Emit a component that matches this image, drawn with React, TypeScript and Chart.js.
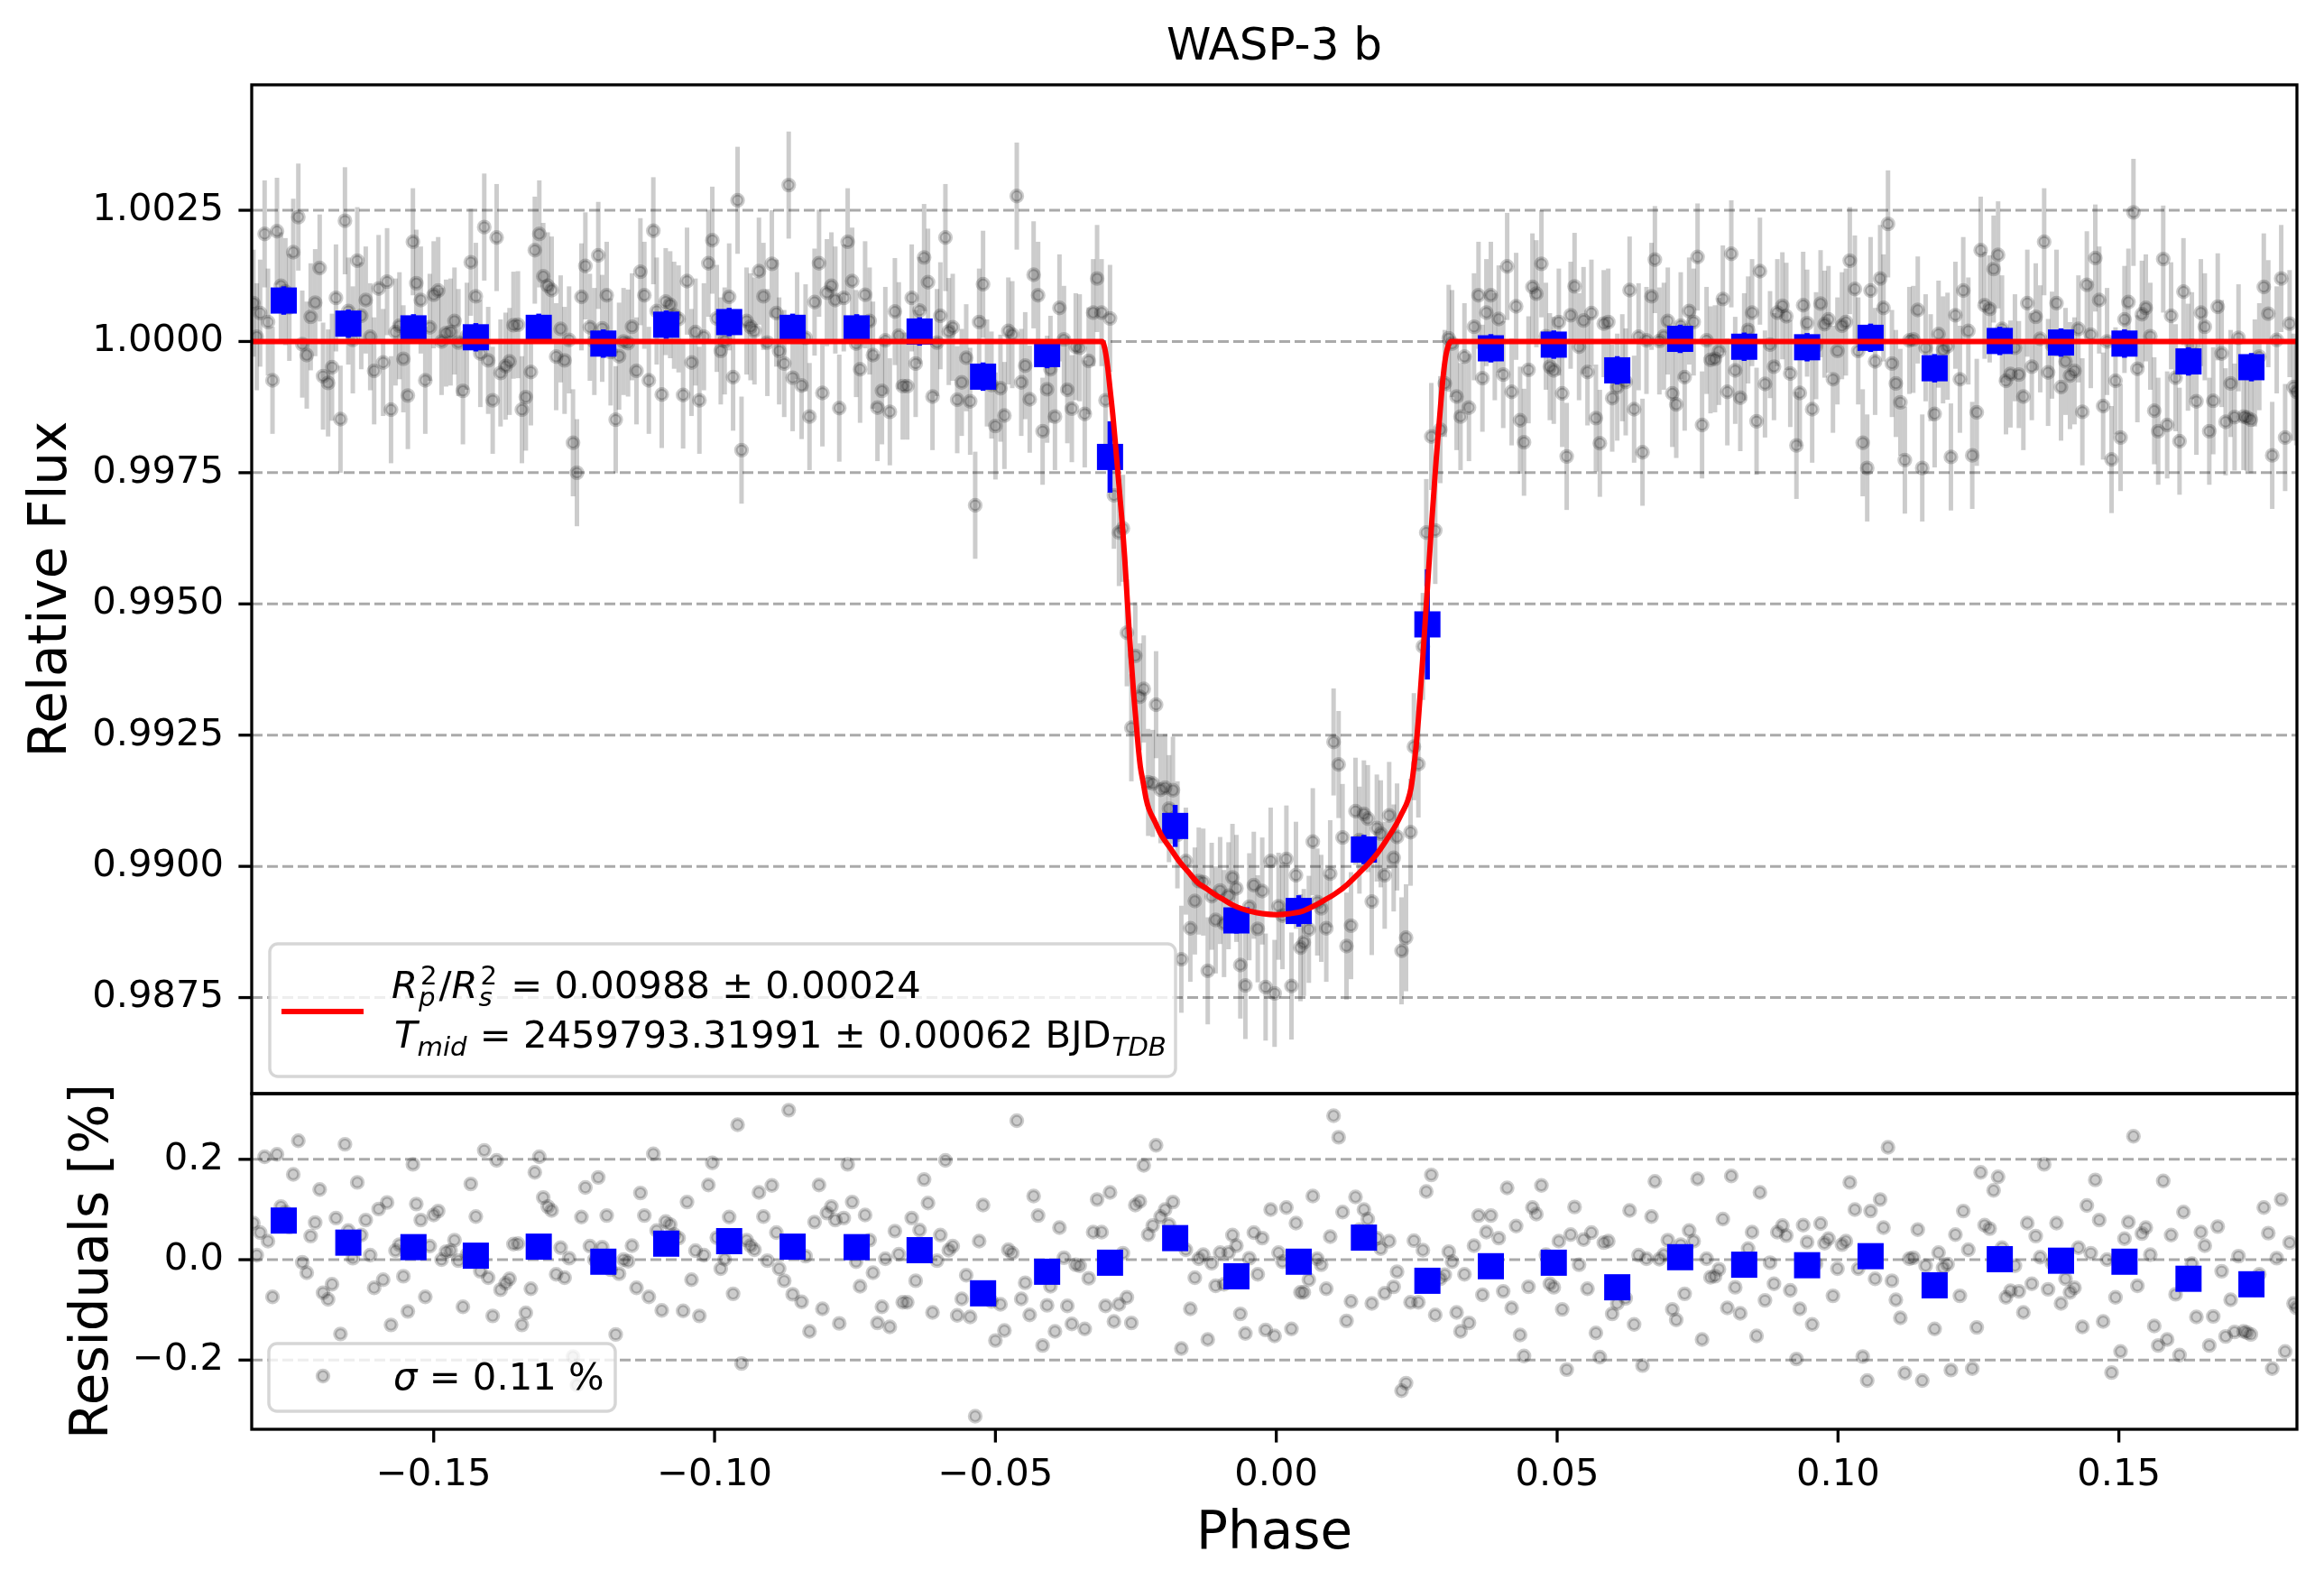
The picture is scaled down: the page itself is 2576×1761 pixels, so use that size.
import React, { useEffect, useRef } from "react";
import { Chart, registerables } from "chart.js";

Chart.register(...registerables);

const FONT = '"DejaVu Sans", sans-serif';

// ---------------- data ----------------
const phase = [
  -0.1821, -0.1815, -0.1809, -0.1801, -0.1795, -0.1787, -0.1779, -0.1772, -0.1764, -0.1757,
  -0.1750, -0.1741, -0.1734, -0.1726, -0.1719, -0.1711, -0.1703, -0.1697, -0.1688, -0.1681,
  -0.1674, -0.1666, -0.1658, -0.1652, -0.1644, -0.1636, -0.1629, -0.1621, -0.1613, -0.1606,
  -0.1598, -0.1590, -0.1583, -0.1576, -0.1568, -0.1561, -0.1554, -0.1546, -0.1537, -0.1531,
  -0.1523, -0.1515, -0.1507, -0.1500, -0.1492, -0.1486, -0.1478, -0.1470, -0.1463, -0.1456,
  -0.1448, -0.1441, -0.1434, -0.1425, -0.1417, -0.1410, -0.1403, -0.1395, -0.1388, -0.1381,
  -0.1372, -0.1365, -0.1358, -0.1350, -0.1343, -0.1336, -0.1327, -0.1320, -0.1312, -0.1305,
  -0.1297, -0.1290, -0.1282, -0.1274, -0.1267, -0.1259, -0.1252, -0.1245, -0.1237, -0.1230,
  -0.1222, -0.1214, -0.1207, -0.1200, -0.1192, -0.1185, -0.1176, -0.1170, -0.1162, -0.1154,
  -0.1147, -0.1139, -0.1132, -0.1125, -0.1117, -0.1109, -0.1103, -0.1094, -0.1087, -0.1079,
  -0.1072, -0.1064, -0.1056, -0.1049, -0.1041, -0.1034, -0.1027, -0.1019, -0.1011, -0.1004,
  -0.0996, -0.0989, -0.0982, -0.0974, -0.0967, -0.0959, -0.0952, -0.0943, -0.0936, -0.0929,
  -0.0921, -0.0913, -0.0906,
  -0.0898, -0.0890, -0.0885, -0.0876, -0.0868, -0.0861, -0.0853, -0.0845, -0.0838, -0.0831,
  -0.0822, -0.0814, -0.0808, -0.0800, -0.0792, -0.0785, -0.0778, -0.0770, -0.0763, -0.0755,
  -0.0748, -0.0741, -0.0732, -0.0724, -0.0718, -0.0710, -0.0702, -0.0696, -0.0688, -0.0679,
  -0.0672, -0.0665, -0.0657, -0.0649, -0.0642, -0.0635, -0.0627, -0.0620, -0.0612, -0.0604,
  -0.0598, -0.0589, -0.0583, -0.0576, -0.0568, -0.0560, -0.0552, -0.0545, -0.0536, -0.0529,
  -0.0522, -0.0515, -0.0507, -0.0500, -0.0491, -0.0484, -0.0477, -0.0470, -0.0462, -0.0454,
  -0.0447, -0.0439, -0.0432, -0.0424, -0.0416, -0.0408, -0.0402, -0.0394, -0.0386, -0.0378,
  -0.0372, -0.0364, -0.0357, -0.0350, -0.0341, -0.0334, -0.0326, -0.0319, -0.0311,
  -0.0304, -0.0296, -0.0289, -0.0280, -0.0273, -0.0266, -0.0258, -0.0251, -0.0243, -0.0236,
  -0.0228, -0.0220, -0.0214, -0.0206, -0.0198, -0.0191, -0.0184, -0.0176, -0.0169, -0.0161,
  -0.0153, -0.0145, -0.0138, -0.0130, -0.0122, -0.0115, -0.0108, -0.0100, -0.0093, -0.0085,
  -0.0078, -0.0071, -0.0064, -0.0055, -0.0048, -0.0040, -0.0033, -0.0025, -0.0019, -0.0010,
  -0.0003, 0.0004, 0.0011, 0.0018, 0.0027, 0.0035, 0.0043, 0.0049, 0.0058, 0.0065,
  0.0073, 0.0080, 0.0089, 0.0096, 0.0102, 0.0111, 0.0118, 0.0125, 0.0133, 0.0141,
  0.0148, 0.0156, 0.0163, 0.0170, 0.0179, 0.0186, 0.0193, 0.0201, 0.0209, 0.0215,
  0.0223, 0.0231, 0.0239, 0.0245, 0.0253, 0.0261, 0.0267, 0.0276, 0.0283, 0.0292,
  0.0300, 0.0307,
  0.0313, 0.0321, 0.0328, 0.0335, 0.0343, 0.0352, 0.0360, 0.0367, 0.0374, 0.0382,
  0.0389, 0.0396, 0.0404, 0.0411, 0.0419, 0.0427, 0.0434, 0.0441, 0.0449, 0.0456,
  0.0463, 0.0472, 0.0480, 0.0487, 0.0494, 0.0503, 0.0509, 0.0517, 0.0524, 0.0531,
  0.0539, 0.0547, 0.0554, 0.0561, 0.0569, 0.0576, 0.0583, 0.0591, 0.0598, 0.0607,
  0.0616, 0.0622, 0.0629, 0.0637, 0.0645, 0.0652, 0.0659, 0.0668, 0.0674, 0.0682,
  0.0690, 0.0697, 0.0705, 0.0712, 0.0720, 0.0727, 0.0735, 0.0743, 0.0750, 0.0758,
  0.0766, 0.0773, 0.0781, 0.0788, 0.0795, 0.0803, 0.0810, 0.0817, 0.0826, 0.0833,
  0.0840, 0.0847, 0.0855, 0.0861, 0.0870, 0.0879, 0.0886, 0.0892, 0.0901, 0.0908,
  0.0915,
  0.0926, 0.0932, 0.0938, 0.0945, 0.0954, 0.0961, 0.0969, 0.0976, 0.0983, 0.0991,
  0.0999, 0.1007, 0.1014, 0.1021, 0.1030, 0.1036, 0.1044, 0.1052, 0.1058, 0.1066,
  0.1075, 0.1081, 0.1089, 0.1096, 0.1103, 0.1111, 0.1119, 0.1127, 0.1134, 0.1142,
  0.1150, 0.1156, 0.1165, 0.1172, 0.1179, 0.1187, 0.1195, 0.1201, 0.1209, 0.1217,
  0.1223, 0.1232, 0.1239, 0.1247, 0.1254, 0.1261, 0.1270, 0.1277, 0.1285, 0.1292,
  0.1299, 0.1307, 0.1315, 0.1322, 0.1330, 0.1337, 0.1345, 0.1352, 0.1360, 0.1367,
  0.1374, 0.1381, 0.1389, 0.1397, 0.1405, 0.1413, 0.1421, 0.1428, 0.1435, 0.1443,
  0.1450, 0.1458, 0.1465, 0.1472, 0.1479, 0.1487, 0.1494, 0.1503, 0.1510, 0.1517,
  0.1526, 0.1533, 0.1541, 0.1548, 0.1556, 0.1563, 0.1570, 0.1579, 0.1586, 0.1593,
  0.1601, 0.1608, 0.1615, 0.1623, 0.1630, 0.1638, 0.1646, 0.1653, 0.1661, 0.1668,
  0.1676, 0.1683, 0.1690, 0.1699, 0.1706, 0.1713, 0.1722, 0.1728, 0.1735, 0.1742,
  0.1750, 0.1758, 0.1766, 0.1773, 0.1781, 0.1789, 0.1796, 0.1804, 0.1811, 0.1816,
];

const flux = [
  1.00073, 1.00009, 1.00054, 1.00205, 1.00037, 0.99926, 1.00210, 1.00106, 1.00095, 1.00065,
  1.00170, 1.00237, 0.99995, 0.99974, 1.00047, 1.00074, 1.00140, 0.99934, 0.99921, 0.99951,
  1.00083, 0.99852, 1.00230, 1.00058, 1.00003, 1.00154, 1.00049, 1.00079, 1.00009, 0.99944,
  1.00101, 0.99960, 1.00114, 0.99870, 1.00018, 1.00030, 0.99967, 0.99897, 1.00190, 1.00111,
  1.00079, 0.99926, 1.00027, 1.00089, 1.00097, 1.00000, 1.00016, 1.00018, 1.00039, 0.99998,
  0.99906, 1.00010, 1.00151, 1.00086, 0.99977, 1.00218, 0.99964, 0.99888, 1.00198, 0.99940,
  0.99953, 0.99962, 1.00031, 1.00032, 0.99870, 0.99894, 0.99942, 1.00174, 1.00205, 1.00124,
  1.00106, 1.00098, 0.99971, 1.00024, 0.99964, 1.00003, 0.99807, 0.99750, 1.00085, 1.00144,
  1.00027, 1.00000, 1.00164, 1.00025, 1.00088, 0.99980, 0.99851, 0.99972, 1.00000, 0.99997,
  1.00028, 0.99944, 1.00133, 1.00088, 0.99926, 1.00211, 1.00058, 0.99899, 1.00076, 1.00070,
  1.00050, 1.00043, 0.99898, 1.00115, 0.99960, 1.00018, 0.99888, 1.00009, 1.00149, 1.00193,
  1.00044, 0.99982, 1.00001, 1.00085, 0.99932, 1.00269, 0.99793, 1.00039, 1.00028, 1.00020,
  1.00134, 1.00086, 0.99998,
  1.00148, 1.00054, 0.99982, 0.99958, 1.00298, 0.99931, 1.00030, 0.99916, 1.00007, 0.99857,
  1.00075, 1.00149, 0.99902, 1.00093, 1.00106, 1.00079, 0.99873, 1.00083, 1.00190, 1.00115,
  0.99996, 0.99947, 1.00089, 1.00039, 0.99974, 0.99874, 0.99906, 1.00002, 0.99866, 1.00057,
  1.00011, 0.99915, 0.99915, 1.00083, 0.99958, 1.00059, 1.00160, 1.00113, 0.99895, 0.99998,
  1.00049, 1.00198, 1.00019, 1.00027, 0.99889, 0.99922, 0.99969, 0.99886, 0.99688, 1.00037,
  1.00109, 0.99940, 0.99917, 0.99839, 0.99911, 0.99859, 1.00020, 1.00013, 1.00277, 0.99922,
  0.99954, 0.99890, 1.00127, 1.00088, 0.99829, 0.99909, 0.99947, 0.99857, 1.00064, 1.00004,
  0.99908, 0.99872, 0.99990, 0.99988, 0.99862, 0.99963, 1.00055, 1.00120, 1.00055,
  0.99888, 1.00044, 0.99707, 0.99636, 0.99644, 0.99445, 0.99264, 0.99401, 0.99323, 0.99338,
  0.99160, 0.99158, 0.99308, 0.99146, 0.99150, 0.99110, 0.99145, 0.99060, 0.98823, 0.99010,
  0.98882, 0.98934, 0.98972, 0.98970, 0.98801, 0.98943, 0.98898, 0.98954, 0.98891, 0.98944,
  0.98979, 0.98958, 0.98812, 0.98773, 0.98923, 0.98964, 0.98881, 0.98953, 0.98770, 0.99010,
  0.98758, 0.98924, 0.98906, 0.99014, 0.98772, 0.98983, 0.98845, 0.98855, 0.98880, 0.99047,
  0.98932, 0.98920, 0.98882, 0.98986, 0.99237, 0.99194, 0.99055, 0.98848, 0.98887, 0.99105,
  0.99050, 0.99100, 0.99091, 0.98933, 0.99073, 0.99062, 0.98983, 0.99097, 0.99016, 0.99056,
  0.98839, 0.98864, 0.99065, 0.99228, 0.99195, 0.99419, 0.99636, 0.99819, 0.99640, 0.99832,
  0.99920, 1.00006,
  0.99996, 0.99895, 0.99857, 0.99971, 0.99874, 1.00028, 1.00088, 0.99930, 1.00055, 1.00088,
  0.99990, 1.00043, 0.99937, 1.00143, 0.99904, 1.00067, 0.99850, 0.99808, 0.99946, 1.00104,
  1.00091, 1.00148, 1.00010, 0.99952, 0.99945, 1.00037, 0.99901, 0.99781, 1.00050, 1.00105,
  0.99990, 1.00040, 0.99942, 1.00054, 0.99854, 0.99806, 1.00034, 1.00037, 0.99892, 0.99913,
  0.99950, 0.99923, 1.00098, 0.99871, 1.00009, 0.99789, 1.00002, 1.00086, 1.00156, 1.00001,
  1.00010, 1.00039, 0.99901, 0.99880, 1.00030, 0.99932, 1.00058, 1.00037, 1.00161, 0.99841,
  1.00002, 0.99965, 0.99967, 0.99981, 1.00081, 0.99904, 1.00167, 0.99945, 0.99893, 0.99990,
  1.00022, 1.00055, 0.99848, 1.00134, 0.99919, 0.99994, 0.99952, 1.00055, 1.00068, 1.00048,
  0.99939,
  0.99802, 0.99902, 1.00069, 1.00035, 0.99871, 0.99992, 1.00072, 1.00033, 1.00042, 0.99928,
  0.99982, 1.00030, 1.00037, 1.00154, 1.00100, 0.99982, 0.99807, 0.99759, 1.00097, 0.99962,
  1.00120, 1.00064, 1.00224, 0.99958, 0.99920, 0.99884, 0.99774, 1.00002, 1.00004, 1.00060,
  0.99759, 0.99988, 0.99950, 0.99862, 1.00014, 0.99984, 0.99991, 0.99780, 1.00050, 0.99928,
  1.00097, 1.00020, 0.99783, 0.99865, 1.00174, 1.00069, 1.00062, 1.00138, 1.00165, 1.00024,
  0.99925, 0.99938, 0.99988, 0.99937, 0.99895, 1.00073, 0.99952, 1.00047, 1.00005, 1.00190,
  0.99941, 0.99993, 1.00073, 0.99913, 0.99962, 0.99935, 0.99944, 1.00024, 0.99866, 1.00108,
  1.00013, 1.00159, 1.00079, 0.99877, 1.00000, 0.99775, 0.99925, 0.99817, 1.00042, 1.00075,
  1.00246, 0.99948, 1.00052, 1.00064, 1.00010, 0.99868, 0.99829, 1.00157, 0.99841, 1.00049,
  0.99931, 0.99810, 1.00095, 0.99970, 0.99992, 0.99886, 1.00055, 1.00028, 0.99829, 0.99887,
  1.00066, 0.99977, 0.99847, 0.99920, 0.99856, 1.00007, 0.99857, 0.99855, 0.99851, 0.99940,
  0.99971, 1.00104, 1.00053, 0.99783, 1.00003, 1.00120, 0.99817, 1.00034, 0.99913, 0.99904,
];

// residuals in percent
const resid = [
  0.073, 0.009, 0.054, 0.205, 0.037, -0.074, 0.210, 0.106, 0.095, 0.065,
  0.170, 0.237, -0.005, -0.026, 0.047, 0.074, 0.140, -0.066, -0.079, -0.049,
  0.083, -0.148, 0.230, 0.058, 0.003, 0.154, 0.049, 0.079, 0.009, -0.056,
  0.101, -0.040, 0.114, -0.130, 0.018, 0.030, -0.033, -0.103, 0.190, 0.111,
  0.079, -0.074, 0.027, 0.089, 0.097, 0.000, 0.016, 0.018, 0.039, -0.002,
  -0.094, 0.010, 0.151, 0.086, -0.023, 0.218, -0.036, -0.112, 0.198, -0.060,
  -0.047, -0.038, 0.031, 0.032, -0.130, -0.106, -0.058, 0.174, 0.205, 0.124,
  0.106, 0.098, -0.029, 0.024, -0.036, 0.003, -0.193, -0.250, 0.085, 0.144,
  0.027, 0.000, 0.164, 0.025, 0.088, -0.020, -0.149, -0.028, 0.000, -0.003,
  0.028, -0.056, 0.133, 0.088, -0.074, 0.211, 0.058, -0.101, 0.076, 0.070,
  0.050, 0.043, -0.102, 0.115, -0.040, 0.018, -0.112, 0.009, 0.149, 0.193,
  0.044, -0.018, 0.001, 0.085, -0.068, 0.269, -0.207, 0.039, 0.028, 0.020,
  0.134, 0.086, -0.002,
  0.148, 0.054, -0.018, -0.042, 0.298, -0.069, 0.030, -0.084, 0.007, -0.143,
  0.075, 0.149, -0.098, 0.093, 0.106, 0.079, -0.127, 0.083, 0.190, 0.115,
  -0.004, -0.053, 0.089, 0.039, -0.026, -0.126, -0.094, 0.002, -0.134, 0.057,
  0.011, -0.085, -0.085, 0.083, -0.042, 0.059, 0.160, 0.113, -0.105, -0.002,
  0.049, 0.198, 0.019, 0.027, -0.111, -0.078, -0.031, -0.114, -0.312, 0.037,
  0.109, -0.060, -0.083, -0.161, -0.089, -0.141, 0.020, 0.013, 0.277, -0.078,
  -0.046, -0.110, 0.127, 0.088, -0.171, -0.091, -0.053, -0.143, 0.064, 0.004,
  -0.092, -0.128, -0.010, -0.012, -0.138, -0.037, 0.055, 0.120, 0.055,
  -0.092, 0.134, -0.123, -0.089, 0.013, -0.075, -0.126, 0.109, 0.116, 0.188,
  0.050, 0.068, 0.228, 0.086, 0.100, 0.070, 0.115, 0.050, -0.177, 0.020,
  -0.098, -0.036, 0.002, 0.010, -0.159, -0.007, -0.052, 0.014, -0.049, 0.014,
  0.049, 0.028, -0.108, -0.147, 0.003, 0.054, -0.029, 0.043, -0.140, 0.100,
  -0.152, 0.014, -0.004, 0.104, -0.138, 0.073, -0.065, -0.065, -0.040, 0.127,
  0.002, -0.010, -0.058, 0.046, 0.287, 0.244, 0.095, -0.122, -0.083, 0.125,
  0.060, 0.100, 0.081, -0.087, 0.043, 0.022, -0.067, 0.037, -0.054, -0.024,
  -0.261, -0.246, -0.085, 0.038, -0.085, 0.019, 0.136, 0.169, -0.110, -0.038,
  -0.030, 0.016,
  -0.004, -0.105, -0.143, -0.029, -0.126, 0.028, 0.088, -0.070, 0.055, 0.088,
  -0.010, 0.043, -0.063, 0.143, -0.096, 0.067, -0.150, -0.192, -0.054, 0.104,
  0.091, 0.148, 0.010, -0.048, -0.055, 0.037, -0.099, -0.219, 0.050, 0.105,
  -0.010, 0.040, -0.058, 0.054, -0.146, -0.194, 0.034, 0.037, -0.108, -0.087,
  -0.050, -0.077, 0.098, -0.129, 0.009, -0.211, 0.002, 0.086, 0.156, 0.001,
  0.010, 0.039, -0.099, -0.120, 0.030, -0.068, 0.058, 0.037, 0.161, -0.159,
  0.002, -0.035, -0.033, -0.019, 0.081, -0.096, 0.167, -0.055, -0.107, -0.010,
  0.022, 0.055, -0.152, 0.134, -0.081, -0.006, -0.048, 0.055, 0.068, 0.048,
  -0.061,
  -0.198, -0.098, 0.069, 0.035, -0.129, -0.008, 0.072, 0.033, 0.042, -0.072,
  -0.018, 0.030, 0.037, 0.154, 0.100, -0.018, -0.193, -0.241, 0.097, -0.038,
  0.120, 0.064, 0.224, -0.042, -0.080, -0.116, -0.226, 0.002, 0.004, 0.060,
  -0.241, -0.012, -0.050, -0.138, 0.014, -0.016, -0.009, -0.220, 0.050, -0.072,
  0.097, 0.020, -0.217, -0.135, 0.174, 0.069, 0.062, 0.138, 0.165, 0.024,
  -0.075, -0.062, -0.012, -0.063, -0.105, 0.073, -0.048, 0.047, 0.005, 0.190,
  -0.059, -0.007, 0.073, -0.087, -0.038, -0.065, -0.056, 0.024, -0.134, 0.108,
  0.013, 0.159, 0.079, -0.123, 0.000, -0.225, -0.075, -0.183, 0.042, 0.075,
  0.246, -0.052, 0.052, 0.064, 0.010, -0.132, -0.171, 0.157, -0.159, 0.049,
  -0.069, -0.190, 0.095, -0.030, -0.008, -0.114, 0.055, 0.028, -0.171, -0.113,
  0.066, -0.023, -0.153, -0.080, -0.144, 0.007, -0.143, -0.145, -0.149, -0.060,
  -0.029, 0.104, 0.053, -0.217, 0.003, 0.120, -0.183, 0.034, -0.087, -0.096,
];

const pointErr = 0.00102;

const binPhase = [
  -0.1767, -0.1652, -0.1536, -0.1425, -0.1313, -0.1198, -0.1086, -0.0974, -0.0861, -0.0747,
  -0.0635, -0.0522, -0.0408, -0.0296, -0.0180, -0.0071, 0.0040, 0.0156, 0.0269, 0.0382,
  0.0494, 0.0607, 0.0719, 0.0833, 0.0945, 0.1058, 0.1172, 0.1288, 0.1397, 0.1510,
  0.1624, 0.1736,
];
const binFlux = [
  1.00078, 1.00034, 1.00025, 1.00008, 1.00026, 0.99996, 1.00032, 1.00037, 1.00026, 1.00025,
  1.00019, 0.99933, 0.99976, 0.99780, 0.99077, 0.98897, 0.98915, 0.99032, 0.99461, 0.99987,
  0.99994, 0.99945, 1.00005, 0.99990, 0.99989, 1.00007, 0.99949, 1.00001, 0.99998, 0.99996,
  0.99962, 0.99951,
];
const binFluxErr = [
  0.00027, 0.00027, 0.00027, 0.00027, 0.00027, 0.00027, 0.00027, 0.00027, 0.00027, 0.00027,
  0.00027, 0.00027, 0.00027, 0.00068, 0.00040, 0.00025, 0.00030, 0.00028, 0.00105, 0.00027,
  0.00027, 0.00027, 0.00027, 0.00027, 0.00027, 0.00027, 0.00027, 0.00027, 0.00027, 0.00027,
  0.00027, 0.00027,
];
const binResid = [
  0.078, 0.034, 0.025, 0.008, 0.026, -0.004, 0.032, 0.037, 0.026, 0.025,
  0.019, -0.067, -0.024, -0.006, 0.043, -0.033, -0.004, 0.044, -0.042, -0.013,
  -0.006, -0.055, 0.005, -0.010, -0.011, 0.007, -0.051, 0.001, -0.002, -0.004,
  -0.038, -0.049,
];

const modelPhase = [
  -0.1824, -0.0310, -0.0305, -0.0300, -0.0296, -0.0291, -0.0286, -0.0282, -0.0278, -0.0274,
  -0.0270, -0.0266, -0.0262, -0.0258, -0.0254, -0.0250, -0.0246, -0.0242, -0.0237, -0.0232,
  -0.0227, -0.0216, -0.0205, -0.0189, -0.0173, -0.0157, -0.0141, -0.0125, -0.0109, -0.0093,
  -0.0077, -0.0061, -0.0045, -0.0025, 0.0000, 0.0025, 0.0045, 0.0062, 0.0083, 0.0105,
  0.0127, 0.0148, 0.0164, 0.0180, 0.0196, 0.0212, 0.0224, 0.0234, 0.0240, 0.0245,
  0.0249, 0.0253, 0.0257, 0.0261, 0.0265, 0.0269, 0.0273, 0.0277, 0.0281, 0.0285,
  0.0290, 0.0295, 0.0300, 0.0305, 0.0311, 0.1817,
];
const modelFlux = [
  1.0, 1.0, 0.99985, 0.9995, 0.9991, 0.9986, 0.998, 0.9975, 0.997, 0.9965,
  0.9959, 0.9952, 0.9945, 0.9939, 0.9933, 0.9928, 0.9923, 0.9919, 0.9916, 0.9913,
  0.9911, 0.99085, 0.9906, 0.99035, 0.9901, 0.9899, 0.9897, 0.98958, 0.98946, 0.98936,
  0.98926, 0.98919, 0.98914, 0.9891, 0.98908, 0.9891, 0.98914, 0.98922, 0.98934, 0.98948,
  0.98966, 0.98988, 0.99005, 0.99025, 0.9905, 0.99077, 0.99102, 0.99125, 0.9915, 0.9919,
  0.9923, 0.9928, 0.9934, 0.994, 0.99465, 0.9953, 0.99595, 0.9966, 0.9972, 0.9978,
  0.99845, 0.9991, 0.9996, 0.99988, 1.0, 1.0,
];

const fluxTicks = [0.9875, 0.99, 0.9925, 0.995, 0.9975, 1.0, 1.0025];
const fluxTickLabels = ["0.9875", "0.9900", "0.9925", "0.9950", "0.9975", "1.0000", "1.0025"];
const residTicks = [-0.2, 0.0, 0.2];
const residTickLabels = ["\u22120.2", "0.0", "0.2"];
const phaseTicks = [-0.15, -0.1, -0.05, 0.0, 0.05, 0.1, 0.15];
const phaseTickLabels = ["\u22120.15", "\u22120.10", "\u22120.05", "0.00", "0.05", "0.10", "0.15"];

const X_MIN = -0.1824;
const X_MAX = 0.1817;
const FLUX_MIN = 0.98567;
const FLUX_MAX = 1.00489;
const RES_MIN = -0.338;
const RES_MAX = 0.331;

// ---------------- layout / style ----------------
const W = 2576;
const H = 1761;
const TOP_H = 1240;
const BOT_TOP = 1180;
const BOT_H = H - BOT_TOP;
const AXIS_LW = 3.3;
const TICK_LEN = 14.6;
const TICK_FS = 41.7;
const LABEL_FS = 58;
const GRAY = "rgba(0,0,0,0.2)";
const PT_R = 6.2;
const PT_BW = 4;

function txt(ctx: CanvasRenderingContext2D, s: string, x: number, y: number, size: number, italic: boolean) {
  ctx.font = `${italic ? "italic " : ""}${size}px ${FONT}`;
  ctx.fillText(s, x, y);
  return ctx.measureText(s).width;
}

function legendBox(ctx: CanvasRenderingContext2D, x: number, y: number, w: number, h: number) {
  const r = 9;
  ctx.beginPath();
  ctx.moveTo(x + r, y);
  ctx.lineTo(x + w - r, y);
  ctx.arcTo(x + w, y, x + w, y + r, r);
  ctx.lineTo(x + w, y + h - r);
  ctx.arcTo(x + w, y + h, x + w - r, y + h, r);
  ctx.lineTo(x + r, y + h);
  ctx.arcTo(x, y + h, x, y + h - r, r);
  ctx.lineTo(x, y + r);
  ctx.arcTo(x, y, x + r, y, r);
  ctx.closePath();
  ctx.fillStyle = "rgba(255,255,255,0.8)";
  ctx.fill();
  ctx.lineWidth = 3.5;
  ctx.strokeStyle = "rgba(204,204,204,0.8)";
  ctx.setLineDash([]);
  ctx.stroke();
}

function drawTopLegend(ctx: CanvasRenderingContext2D) {
  legendBox(ctx, 299, 1046, 1004, 147);
  ctx.strokeStyle = "#ff0000";
  ctx.lineWidth = 6;
  ctx.beginPath();
  ctx.moveTo(312, 1121);
  ctx.lineTo(403, 1121);
  ctx.stroke();
  ctx.fillStyle = "#000";
  ctx.textAlign = "left";
  ctx.textBaseline = "alphabetic";
  const F = TICK_FS;
  const S = F * 0.7;
  const b1 = 1106;
  let x = 434;
  x += txt(ctx, "R", x, b1, F, true);
  let w = Math.max(txt(ctx, "p", x + 1, b1 + 9, S, true), txt(ctx, "2", x + 3, b1 - 15, S, false));
  x += w + 5;
  x += txt(ctx, "/", x, b1, F, false);
  x += txt(ctx, "R", x, b1, F, true);
  w = Math.max(txt(ctx, "s", x + 1, b1 + 9, S, true), txt(ctx, "2", x + 3, b1 - 15, S, false));
  x += w + 5;
  txt(ctx, " = 0.00988 \u00b1 0.00024", x, b1, F, false);

  const b2 = 1161;
  x = 437;
  x += txt(ctx, "T", x, b2, F, true);
  x += txt(ctx, "mid", x, b2 + 9, S, true) + 1;
  x += txt(ctx, " = 2459793.31991 \u00b1 0.00062 BJD", x, b2, F, false);
  txt(ctx, "TDB", x + 1, b2 + 9, S, true);
}

function drawBottomLegend(ctx: CanvasRenderingContext2D) {
  const oy = BOT_TOP;
  legendBox(ctx, 298, 1489 - oy, 384, 75);
  ctx.beginPath();
  ctx.arc(358, 1525 - oy, PT_R, 0, Math.PI * 2);
  ctx.fillStyle = GRAY;
  ctx.fill();
  ctx.lineWidth = PT_BW;
  ctx.strokeStyle = GRAY;
  ctx.stroke();
  ctx.fillStyle = "#000";
  ctx.textAlign = "left";
  ctx.textBaseline = "alphabetic";
  let x = 436;
  const b = 1540 - oy;
  x += txt(ctx, "\u03c3", x, b, TICK_FS, true);
  txt(ctx, " = 0.11 %", x, b, TICK_FS, false);
}

const errorBarPlugin = {
  id: "errorBars",
  beforeDatasetDraw(chart: any, args: any) {
    const ds: any = chart.data.datasets[args.index];
    if (ds.errY === undefined) return;
    const { ctx, chartArea: a } = chart;
    const xs = chart.scales.x;
    const ys = chart.scales.y;
    ctx.save();
    ctx.beginPath();
    ctx.rect(a.left, a.top, a.right - a.left, a.bottom - a.top);
    ctx.clip();
    ctx.strokeStyle = ds.errColor;
    ctx.lineWidth = ds.errWidth;
    ctx.lineCap = "butt";
    ds.data.forEach((pt: any, i: number) => {
      const e = Array.isArray(ds.errY) ? ds.errY[i] : ds.errY;
      const px = xs.getPixelForValue(pt.x);
      ctx.beginPath();
      ctx.moveTo(px, ys.getPixelForValue(pt.y - e));
      ctx.lineTo(px, ys.getPixelForValue(pt.y + e));
      ctx.stroke();
    });
    ctx.restore();
  },
};

function makeDecor(yTicks: number[], xTicks: number[] | null, legend: (c: CanvasRenderingContext2D) => void) {
  return {
    id: "decor",
    beforeDatasetsDraw(chart: any) {
      const { ctx, chartArea: a, scales } = chart;
      ctx.save();
      ctx.strokeStyle = "#aaaaaa";
      ctx.lineWidth = 3;
      ctx.setLineDash([12, 5]);
      for (const v of yTicks) {
        const y = scales.y.getPixelForValue(v);
        ctx.beginPath();
        ctx.moveTo(a.left, y);
        ctx.lineTo(a.right, y);
        ctx.stroke();
      }
      ctx.restore();
    },
    afterDatasetsDraw(chart: any) {
      const { ctx, chartArea: a, scales } = chart;
      ctx.save();
      legend(ctx);
      ctx.setLineDash([]);
      ctx.strokeStyle = "#000";
      ctx.lineWidth = AXIS_LW;
      ctx.strokeRect(a.left, a.top, a.right - a.left, a.bottom - a.top);
      for (const v of yTicks) {
        const y = scales.y.getPixelForValue(v);
        ctx.beginPath();
        ctx.moveTo(a.left - TICK_LEN, y);
        ctx.lineTo(a.left, y);
        ctx.stroke();
      }
      if (xTicks) {
        for (const v of xTicks) {
          const x = scales.x.getPixelForValue(v);
          ctx.beginPath();
          ctx.moveTo(x, a.bottom);
          ctx.lineTo(x, a.bottom + TICK_LEN);
          ctx.stroke();
        }
      }
      ctx.restore();
    },
  };
}

const tickFont = { family: FONT, size: TICK_FS };
const labelFont = { family: FONT, size: LABEL_FS };

export default function App() {
  const topRef = useRef<HTMLCanvasElement>(null);
  const botRef = useRef<HTMLCanvasElement>(null);

  useEffect(() => {
    Chart.defaults.font.family = FONT;

    const pts = phase.map((x, i) => ({ x, y: flux[i] }));
    const resPts = phase.map((x, i) => ({ x, y: resid[i] }));

    const grayDs = (data: any[], withErr: boolean): any => ({
      label: "data",
      data,
      pointRadius: PT_R,
      pointBackgroundColor: GRAY,
      pointBorderColor: GRAY,
      pointBorderWidth: PT_BW,
      pointHoverRadius: PT_R,
      order: 2,
      clip: 0,
      ...(withErr ? { errY: pointErr, errColor: GRAY, errWidth: 5 } : {}),
    });

    const top = new Chart(topRef.current as HTMLCanvasElement, {
      type: "scatter",
      data: {
        datasets: [
          {
            label: "model",
            data: modelPhase.map((x, i) => ({ x, y: modelFlux[i] })),
            showLine: true,
            fill: false,
            borderColor: "#ff0000",
            borderWidth: 6,
            pointRadius: 0,
            pointHoverRadius: 0,
            cubicInterpolationMode: "monotone",
            order: 0,
            clip: 0,
          } as any,
          {
            label: "binned",
            data: binPhase.map((x, i) => ({ x, y: binFlux[i] })),
            pointStyle: "rect",
            pointRadius: 20.5,
            pointHoverRadius: 20.5,
            pointBackgroundColor: "#0000ff",
            pointBorderWidth: 0,
            order: 1,
            clip: 0,
            errY: binFluxErr,
            errColor: "#0000ff",
            errWidth: 5.5,
          } as any,
          grayDs(pts, true),
        ],
      },
      options: {
        animation: false,
        responsive: false,
        devicePixelRatio: 1,
        events: [],
        layout: { padding: { top: 0, right: 30, bottom: 28, left: 0 } },
        plugins: {
          legend: { display: false },
          tooltip: { enabled: false },
          title: {
            display: true,
            fullSize: false,
            text: "WASP-3 b",
            color: "#000",
            font: { family: FONT, size: 50, weight: "normal" },
            padding: { top: 23, bottom: 11 },
          },
        },
        scales: {
          x: { type: "linear", min: X_MIN, max: X_MAX, display: false, bounds: "data" },
          y: {
            type: "linear",
            min: FLUX_MIN,
            max: FLUX_MAX,
            bounds: "data",
            afterBuildTicks: (s: any) => {
              s.ticks = fluxTicks.map((v) => ({ value: v }));
            },
            afterFit: (s: any) => {
              s.width = 279;
              s.paddingTop = 0;
              s.paddingBottom = 0;
            },
            ticks: {
              callback: (_v: any, i: number) => fluxTickLabels[i],
              font: tickFont,
              color: "#000",
              padding: 31,
              autoSkip: false,
            },
            grid: { display: false, drawTicks: false },
            border: { display: false },
            title: {
              display: true,
              text: "Relative Flux",
              color: "#000",
              font: labelFont,
              padding: { top: 23, bottom: 0 },
            },
          },
        },
      } as any,
      plugins: [errorBarPlugin, makeDecor(fluxTicks, null, drawTopLegend)],
    });

    const bot = new Chart(botRef.current as HTMLCanvasElement, {
      type: "scatter",
      data: {
        datasets: [
          {
            label: "binned",
            data: binPhase.map((x, i) => ({ x, y: binResid[i] })),
            pointStyle: "rect",
            pointRadius: 20.5,
            pointHoverRadius: 20.5,
            pointBackgroundColor: "#0000ff",
            pointBorderWidth: 0,
            order: 1,
            clip: 0,
          } as any,
          grayDs(resPts, false),
        ],
      },
      options: {
        animation: false,
        responsive: false,
        devicePixelRatio: 1,
        events: [],
        layout: { padding: { top: 32, right: 30, bottom: 0, left: 0 } },
        plugins: {
          legend: { display: false },
          tooltip: { enabled: false },
          title: { display: false },
        },
        scales: {
          x: {
            type: "linear",
            min: X_MIN,
            max: X_MAX,
            bounds: "data",
            afterBuildTicks: (s: any) => {
              s.ticks = phaseTicks.map((v) => ({ value: v }));
            },
            afterFit: (s: any) => {
              s.height = 177;
              s.paddingLeft = 0;
              s.paddingRight = 0;
            },
            ticks: {
              callback: (_v: any, i: number) => phaseTickLabels[i],
              font: tickFont,
              color: "#000",
              padding: 26,
              autoSkip: false,
              maxRotation: 0,
              minRotation: 0,
            },
            grid: { display: false, drawTicks: false },
            border: { display: false },
            title: {
              display: true,
              text: "Phase",
              color: "#000",
              font: labelFont,
              padding: { top: 0, bottom: 25 },
            },
          },
          y: {
            type: "linear",
            min: RES_MIN,
            max: RES_MAX,
            bounds: "data",
            afterBuildTicks: (s: any) => {
              s.ticks = residTicks.map((v) => ({ value: v }));
            },
            afterFit: (s: any) => {
              s.width = 279;
              s.paddingTop = 0;
              s.paddingBottom = 0;
            },
            ticks: {
              callback: (_v: any, i: number) => residTickLabels[i],
              font: tickFont,
              color: "#000",
              padding: 31,
              autoSkip: false,
            },
            grid: { display: false, drawTicks: false },
            border: { display: false },
            title: {
              display: true,
              text: "Residuals [%]",
              color: "#000",
              font: labelFont,
              padding: { top: 69, bottom: 0 },
            },
          },
        },
      } as any,
      plugins: [errorBarPlugin, makeDecor(residTicks, phaseTicks, drawBottomLegend)],
    });

    return () => {
      top.destroy();
      bot.destroy();
    };
  }, []);

  return (
    <div style={{ position: "absolute", left: 0, top: 0, width: W, height: H, background: "#fff", overflow: "hidden" }}>
      <canvas
        ref={topRef}
        width={W}
        height={TOP_H}
        style={{ position: "absolute", left: 0, top: 0, width: W, height: TOP_H }}
      />
      <canvas
        ref={botRef}
        width={W}
        height={BOT_H}
        style={{ position: "absolute", left: 0, top: BOT_TOP, width: W, height: BOT_H }}
      />
    </div>
  );
}
